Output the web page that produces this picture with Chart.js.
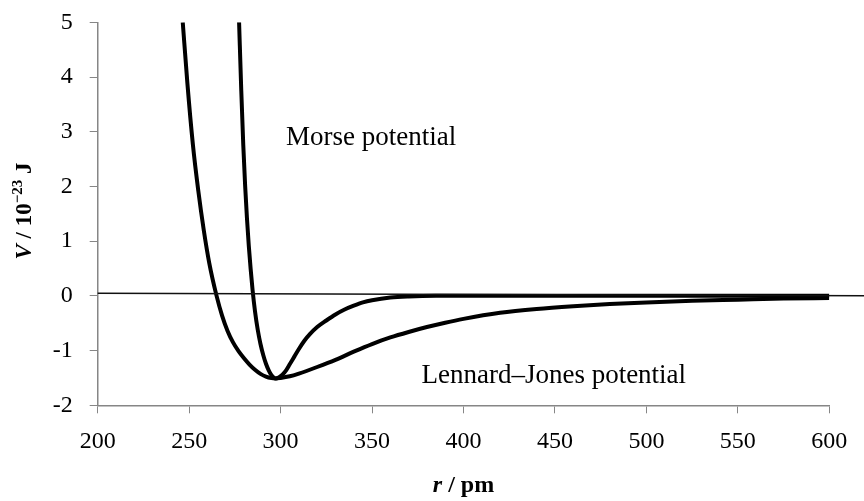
<!DOCTYPE html>
<html>
<head>
<meta charset="utf-8">
<script src="https://cdn.jsdelivr.net/npm/chart.js@4.4.1/dist/chart.umd.min.js"></script>
<style>
    html, body { margin: 0; padding: 0; background: #fff; }
    #wrap { width: 864px; height: 501px; position: relative; }
</style>
</head>
<body>
<div id="wrap"><canvas id="potentialChart"></canvas></div>
<script>
// r in pm, V in 10^-23 J
const ljR = [246.5, 249, 252, 255, 258, 261, 265, 268, 271, 274, 277, 280, 283, 286, 289, 292, 295, 297,
             300, 305, 310, 320, 330, 340, 350, 360, 370, 380, 390, 400, 420, 440, 460, 480,
             500, 525, 550, 575, 600];
const ljV = [5.0, 3.9, 2.78, 1.92, 1.2, 0.6, 0.0, -0.36, -0.64, -0.85, -1.01, -1.14, -1.255, -1.35, -1.425, -1.475, -1.503, -1.51,
             -1.50, -1.47, -1.42, -1.30, -1.17, -1.02, -0.88, -0.76, -0.66, -0.57, -0.49, -0.42, -0.31, -0.24, -0.19, -0.15,
             -0.12, -0.09, -0.07, -0.05, -0.04];

const morseR = [277.3, 278.5, 279.6, 280.6, 281.6, 282.6, 283.6, 284.7, 286, 287.5, 289, 290.5, 292, 293.5, 295, 296.5, 297.5,
                299, 301, 303, 305, 307.5, 310, 313, 316, 320, 325, 330, 335, 340, 345, 350, 360, 370, 385,
                450, 500, 550, 600];
const morseV = [5.0, 3.75, 2.75, 2.02, 1.42, 0.92, 0.5, 0.1, -0.28, -0.62, -0.88, -1.08, -1.24, -1.36, -1.45, -1.50, -1.51,
                -1.49, -1.44, -1.36, -1.25, -1.11, -0.97, -0.82, -0.70, -0.57, -0.45, -0.34, -0.25, -0.18, -0.12, -0.08, -0.03, -0.01, 0.0,
                0.0, 0.0, 0.0, 0.0];

// zero line, runs on past the end of the axis
const baseR = [200, 620];
const baseV = [0.05, 0.0];

const xRange = [200, 600];
const xStep = 50;
const yRange = [-2, 5];
const yStep = 1;

const SERIF = '"Liberation Serif", "Times New Roman", serif';

function toPoints(xs, ys) {
    return xs.map(function(x, i) { return { x: x, y: ys[i] }; });
}

// draws several text pieces in a row (mixed italic / superscript), centred on cx
function drawRuns(ctx, runs, cx, cy) {
    let total = 0;
    runs.forEach(function(r) {
        ctx.font = r.font;
        r.w = ctx.measureText(r.text).width;
        total += r.w;
    });
    let x = cx - total / 2;
    runs.forEach(function(r) {
        ctx.font = r.font;
        ctx.fillText(r.text, x, cy + (r.dy || 0));
        x += r.w;
    });
}

const textPlugin = {
    id: 'chartText',
    afterDraw: function(chart) {
        const ctx = chart.ctx;
        const xs = chart.scales.x;
        const ys = chart.scales.y;
        const area = chart.chartArea;
        ctx.save();
        ctx.fillStyle = '#000';
        ctx.textAlign = 'left';
        ctx.textBaseline = 'alphabetic';

        ctx.font = '27px ' + SERIF;
        ctx.fillText('Morse potential', xs.getPixelForValue(303), ys.getPixelForValue(2.75));
        ctx.fillText('Lennard–Jones potential', xs.getPixelForValue(377), ys.getPixelForValue(-1.6));

        // x axis title
        drawRuns(ctx, [
            { text: 'r', font: 'italic bold 24px ' + SERIF },
            { text: ' / pm', font: 'bold 24px ' + SERIF }
        ], (area.left + area.right) / 2, 492);

        // y axis title
        ctx.translate(31, 211);
        ctx.rotate(-Math.PI / 2);
        drawRuns(ctx, [
            { text: 'V', font: 'italic bold 23px ' + SERIF },
            { text: ' / 10', font: 'bold 23px ' + SERIF },
            { text: '−23', font: 'bold 15px ' + SERIF, dy: -9 },
            { text: ' J', font: 'bold 23px ' + SERIF }
        ], 0, 0);
        ctx.restore();
    }
};

document.addEventListener('DOMContentLoaded', function() {
    const ctx = document.getElementById('potentialChart');

    const axisGrey = '#868686';
    const tickFont = { family: SERIF, size: 24 };

    const config = {
        type: 'scatter',
        data: {
            datasets: [{
                label: 'zero',
                data: toPoints(baseR, baseV),
                showLine: true,
                borderColor: '#111',
                borderWidth: 1.5,
                pointRadius: 0,
                clip: false
            }, {
                label: 'Lennard–Jones potential',
                data: toPoints(ljR, ljV),
                showLine: true,
                borderColor: '#000',
                borderWidth: 4,
                pointRadius: 0,
                cubicInterpolationMode: 'monotone'
            }, {
                label: 'Morse potential',
                data: toPoints(morseR, morseV),
                showLine: true,
                borderColor: '#000',
                borderWidth: 4,
                pointRadius: 0,
                cubicInterpolationMode: 'monotone'
            }]
        },
        options: {
            responsive: true,
            maintainAspectRatio: false,
            animation: false,
            layout: {
                padding: { top: 22.3, right: 34.7, left: 0, bottom: 0 }
            },
            plugins: {
                legend: { display: false },
                tooltip: { enabled: false }
            },
            scales: {
                x: {
                    type: 'linear',
                    min: xRange[0],
                    max: xRange[1],
                    ticks: {
                        stepSize: xStep,
                        color: '#000',
                        font: tickFont,
                        padding: 14,
                        maxRotation: 0
                    },
                    grid: {
                        drawOnChartArea: false,
                        drawTicks: true,
                        tickLength: 8,
                        color: axisGrey
                    },
                    border: { color: axisGrey, width: 1.5 },
                    afterFit: function(scale) { scale.height = 95.7; }
                },
                y: {
                    min: yRange[0],
                    max: yRange[1],
                    ticks: {
                        stepSize: yStep,
                        color: '#000',
                        font: tickFont,
                        padding: 17
                    },
                    grid: {
                        drawOnChartArea: false,
                        drawTicks: true,
                        tickLength: 8,
                        color: axisGrey
                    },
                    border: { color: axisGrey, width: 1.5 },
                    afterFit: function(scale) {
                        scale.width = 97.7;
                        // keep the label padding from pushing the plot down
                        scale.paddingTop = 0;
                        scale.paddingBottom = 0;
                    }
                }
            }
        },
        plugins: [textPlugin]
    };

    new Chart(ctx, config);
});
</script>
</body>
</html>
